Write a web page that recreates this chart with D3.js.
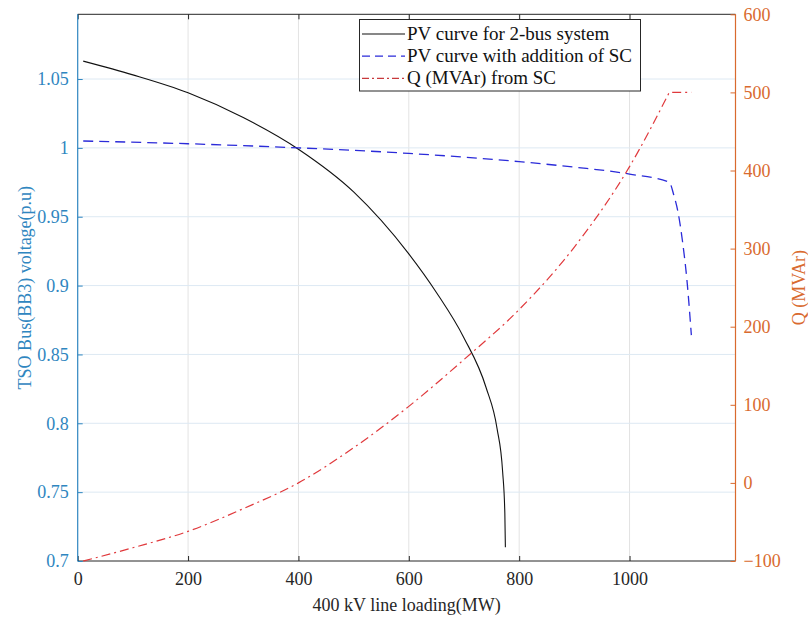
<!DOCTYPE html>
<html>
<head>
<meta charset="utf-8">
<script src="https://cdn.jsdelivr.net/npm/d3@7"></script>
<style>
  body { margin: 0; background: #fff; }
  svg { display: block; font-family: "Liberation Serif", "Times New Roman", serif; }
</style>
</head>
<body>
<svg id="chart" width="808" height="619"></svg>
<script>
// PV curve for the 2-bus system (left axis)
var baseLoad = [10, 100, 200, 300, 400, 500, 600, 650, 700, 740, 760, 770, 774, 775];
var baseVolt = [1.063, 1.053, 1.040, 1.022, 0.999, 0.968, 0.923, 0.895, 0.862, 0.826, 0.796, 0.765, 0.735, 0.71];

// PV curve with SC added (left axis)
var scLoad = [10, 200, 400, 600, 800, 900, 1000, 1072, 1080, 1088, 1096, 1104, 1112];
var scVolt = [1.005, 1.003, 1.000, 0.996, 0.990, 0.986, 0.981, 0.975, 0.966, 0.953, 0.932, 0.904, 0.864];

// Q from SC (right axis); SC output caps at 500 MVAr from ~1072 MW
var qLoad = [10, 100, 200, 300, 400, 500, 600, 700, 800, 900, 1000, 1072, 1112];
var qMvar = [-100, -83, -62, -33, 0, 45, 98, 158, 222, 302, 405, 500, 500];

var xTicks = [0, 200, 400, 600, 800, 1000];
var leftTicks = [0.7, 0.75, 0.8, 0.85, 0.9, 0.95, 1, 1.05];
var rightTicks = [-100, 0, 100, 200, 300, 400, 500, 600];
var legendLabels = ['PV curve for 2-bus system', 'PV curve with addition of SC', 'Q (MVAr) from SC'];

var blueAx = '#2f86c0', orangeAx = '#d96a2e', dark = '#262626';

var svg = d3.select('#chart');
var pLeft = 77.7, pRight = 735.5, pTop = 14.3, pBottom = 561;

var x = d3.scaleLinear().domain([0, 1192]).range([pLeft, pRight]);
var yL = d3.scaleLinear().domain([0.7, 1.097]).range([pBottom, pTop]);
var yR = d3.scaleLinear().domain([-100, 600]).range([pBottom, pTop]);

// grid
svg.append('g').selectAll('line').data(xTicks.slice(1)).enter().append('line')
    .attr('x1', d => x(d)).attr('x2', d => x(d))
    .attr('y1', pTop).attr('y2', pBottom)
    .attr('stroke', '#e3e3e3').attr('stroke-width', 1);
svg.append('g').selectAll('line').data(leftTicks.slice(1)).enter().append('line')
    .attr('x1', pLeft).attr('x2', pRight)
    .attr('y1', d => yL(d)).attr('y2', d => yL(d))
    .attr('stroke', '#dde9f3').attr('stroke-width', 1);

// axes (ticks inward)
var xAxis = svg.append('g').attr('transform', 'translate(0,' + pBottom + ')')
    .call(d3.axisBottom(x).tickValues(xTicks).tickSize(-5).tickPadding(11).tickFormat(d3.format('d')));
xAxis.attr('font-family', null);
xAxis.select('.domain').attr('stroke', dark).attr('d', 'M' + pLeft + ',0H' + pRight);
xAxis.selectAll('.tick line').attr('stroke', dark);
xAxis.selectAll('text').attr('fill', dark).attr('font-size', 18);

var xTop = svg.append('g').attr('transform', 'translate(0,' + pTop + ')')
    .call(d3.axisTop(x).tickValues(xTicks).tickSize(-5).tickFormat(''));
xTop.select('.domain').attr('stroke', dark).attr('d', 'M' + pLeft + ',0H' + pRight);
xTop.selectAll('.tick line').attr('stroke', dark);

var lAxis = svg.append('g').attr('transform', 'translate(' + pLeft + ',0)')
    .call(d3.axisLeft(yL).tickValues(leftTicks).tickSize(-5).tickPadding(9).tickFormat(d => String(+d.toFixed(2))));
lAxis.attr('font-family', null);
lAxis.select('.domain').attr('stroke', blueAx).attr('stroke-width', 1.2).attr('d', 'M0,' + pTop + 'V' + pBottom);
lAxis.selectAll('.tick line').attr('stroke', blueAx);
lAxis.selectAll('text').attr('fill', blueAx).attr('font-size', 18);

var rAxis = svg.append('g').attr('transform', 'translate(' + pRight + ',0)')
    .call(d3.axisRight(yR).tickValues(rightTicks).tickSize(-5).tickPadding(8).tickFormat(d3.format('d')));
rAxis.attr('font-family', null);
rAxis.select('.domain').attr('stroke', orangeAx).attr('stroke-width', 1.2).attr('d', 'M0,' + pTop + 'V' + pBottom);
rAxis.selectAll('.tick line').attr('stroke', orangeAx);
rAxis.selectAll('text').attr('fill', orangeAx).attr('font-size', 18);

// axis labels
svg.append('text').attr('x', (pLeft + pRight) / 2).attr('y', 611).attr('text-anchor', 'middle')
    .attr('font-size', 18).attr('fill', dark).text('400 kV line loading(MW)');
svg.append('text').attr('transform', 'translate(31,' + ((pTop + pBottom) / 2) + ') rotate(-90)')
    .attr('text-anchor', 'middle').attr('font-size', 18).attr('fill', blueAx).text('TSO Bus(BB3) voltage(p.u)');
svg.append('text').attr('transform', 'translate(805,' + ((pTop + pBottom) / 2) + ') rotate(-90)')
    .attr('text-anchor', 'middle').attr('font-size', 18).attr('fill', orangeAx).text('Q (MVAr)');

// curves
var lineL = d3.line().x(d => x(d[0])).y(d => yL(d[1])).curve(d3.curveMonotoneX);
var lineR = d3.line().x(d => x(d[0])).y(d => yR(d[1])).curve(d3.curveMonotoneX);

svg.append('path').datum(d3.zip(baseLoad, baseVolt)).attr('d', lineL)
    .attr('fill', 'none').attr('stroke', '#111').attr('stroke-width', 1.1);
svg.append('path').datum(d3.zip(scLoad, scVolt)).attr('d', lineL)
    .attr('fill', 'none').attr('stroke', '#2b2bd9').attr('stroke-width', 1.3).attr('stroke-dasharray', '10,6');

// smooth rise, then a sharp corner into the 500 MVAr limit
var qPts = d3.zip(qLoad, qMvar);
var qRise = qPts.slice(0, qPts.length - 1);
var qLast = qPts[qPts.length - 1];
svg.append('path')
    .attr('d', lineR(qRise) + 'L' + x(qLast[0]) + ',' + yR(qLast[1]))
    .attr('fill', 'none').attr('stroke', '#e0393c').attr('stroke-width', 1.2).attr('stroke-dasharray', '9,4,2,4');

// legend
var lg = svg.append('g');
lg.append('rect').attr('x', 359.5).attr('y', 19.5).attr('width', 281).attr('height', 71.5)
    .attr('fill', '#fff').attr('stroke', dark).attr('stroke-width', 1);
var styles = [
    {stroke: '#111', dash: null},
    {stroke: '#2b2bd9', dash: '8,5'},
    {stroke: '#c8393c', dash: '7,3,2,3'}
];
legendLabels.forEach(function (lab, i) {
    var cy = 34 + i * 22.2;
    lg.append('line').attr('x1', 362).attr('x2', 405).attr('y1', cy).attr('y2', cy)
        .attr('stroke', styles[i].stroke).attr('stroke-width', 1.2)
        .attr('stroke-dasharray', styles[i].dash);
    lg.append('text').attr('x', 407).attr('y', cy + 6).attr('font-size', 19).attr('fill', '#111').text(lab);
});
</script>
</body>
</html>
